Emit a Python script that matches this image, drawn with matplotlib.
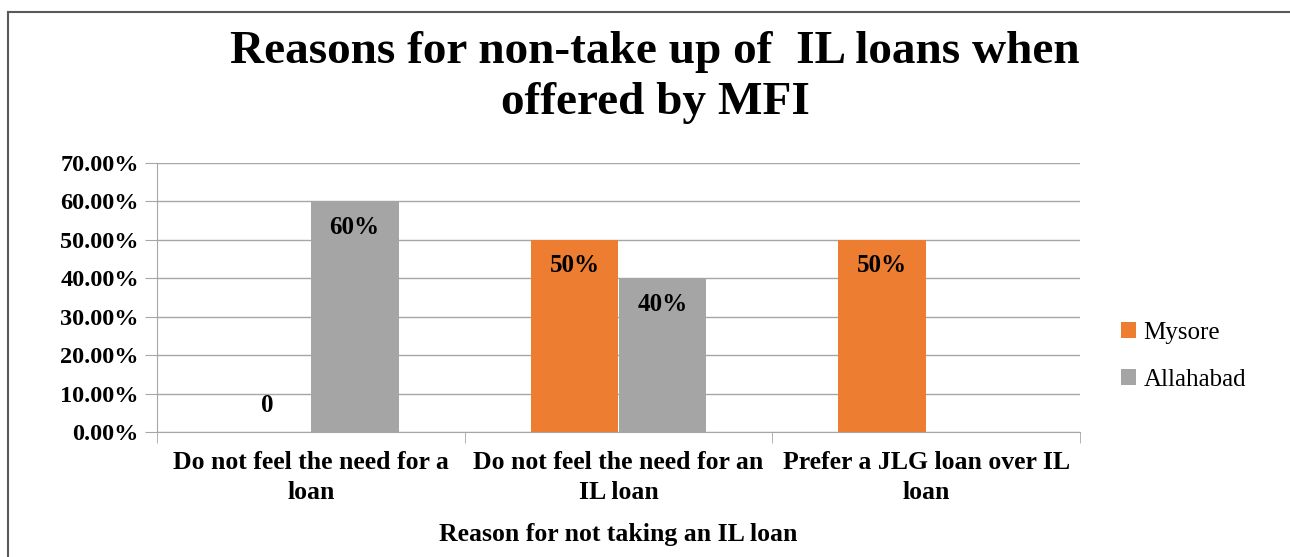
import numpy as np
import matplotlib.pyplot as plt
from matplotlib.lines import Line2D

plt.rcParams['font.family'] = ['Liberation Serif', 'DejaVu Serif']

categories = ['Do not feel the need for a\nloan',
              'Do not feel the need for an\nIL loan',
              'Prefer a JLG loan over IL\nloan']
mysore = [0.0, 50.0, 50.0]
allahabad = [60.0, 40.0, 0.0]
mysore_labels = ['0', '50%', '50%']
allahabad_labels = ['60%', '40%', None]
yticks = [0, 10, 20, 30, 40, 50, 60, 70]

c_mys = '#ED7D31'
c_all = '#A5A5A5'
grid_c = '#A6A6A6'

fig = plt.figure(figsize=(12.9, 5.57), dpi=100)
ax = fig.add_axes([157/1290, 1-432/557, (1080-157)/1290, (432-163)/557])

x = np.arange(len(categories))
w = 0.285
ax.bar(x - w/2, mysore, w, color=c_mys, label='Mysore', zorder=3)
ax.bar(x + w/2, allahabad, w, color=c_all, label='Allahabad', zorder=3)

# data labels inside end (zero bar gets its label just above the base)
off = 6.8
for xs, vals, labs in [(x - w/2, mysore, mysore_labels), (x + w/2, allahabad, allahabad_labels)]:
    for xi, v, t in zip(xs, vals, labs):
        if t is None:
            continue
        y = v - off if v > 0 else off
        ax.text(xi, y, t, ha='center', va='center', fontsize=18, fontweight='bold', zorder=4)

ax.set_xlim(-0.5, 2.5)
ax.set_ylim(0, 70)
ax.set_yticks(yticks)
ax.set_yticklabels(['%.2f%%' % v for v in yticks], fontsize=17.5, fontweight='bold')
ax.yaxis.grid(True, color=grid_c, linewidth=1, zorder=0)
ax.tick_params(axis='y', length=9, color=grid_c, pad=4)

ax.set_xticks(x)
ax.set_xticklabels(categories, fontsize=18.5, fontweight='bold', linespacing=1.35)
ax.set_xticks([-0.5, 0.5, 1.5, 2.5], minor=True)
ax.tick_params(axis='x', which='major', length=0, pad=14)
ax.tick_params(axis='x', which='minor', length=8, color=grid_c)
ax.set_xlabel('Reason for not taking an IL loan', fontsize=18.5, fontweight='bold', labelpad=14)

for s in ['top', 'right']:
    ax.spines[s].set_visible(False)
for s in ['left', 'bottom']:
    ax.spines[s].set_color(grid_c)

fig.text(655/1290, 1-52/557, 'Reasons for non-take up of  IL loans when',
         ha='center', va='center', fontsize=34, fontweight='bold')
fig.text(655/1290, 1-103/557, 'offered by MFI',
         ha='center', va='center', fontsize=34, fontweight='bold')

ax.legend(loc='center left', bbox_to_anchor=(1.02, 0.28), frameon=False,
          fontsize=18, handlelength=0.6, handleheight=0.6, handletextpad=0.3,
          labelspacing=1.0)

# outer chart frame (clipped at right and bottom)
fig.add_artist(Line2D([8/1290, 1.0], [1-12/557, 1-12/557], color='#595959', linewidth=1.5))
fig.add_artist(Line2D([8/1290, 8/1290], [0.0, 1-12/557], color='#595959', linewidth=1.5))

fig.savefig('out.png', dpi=100)
